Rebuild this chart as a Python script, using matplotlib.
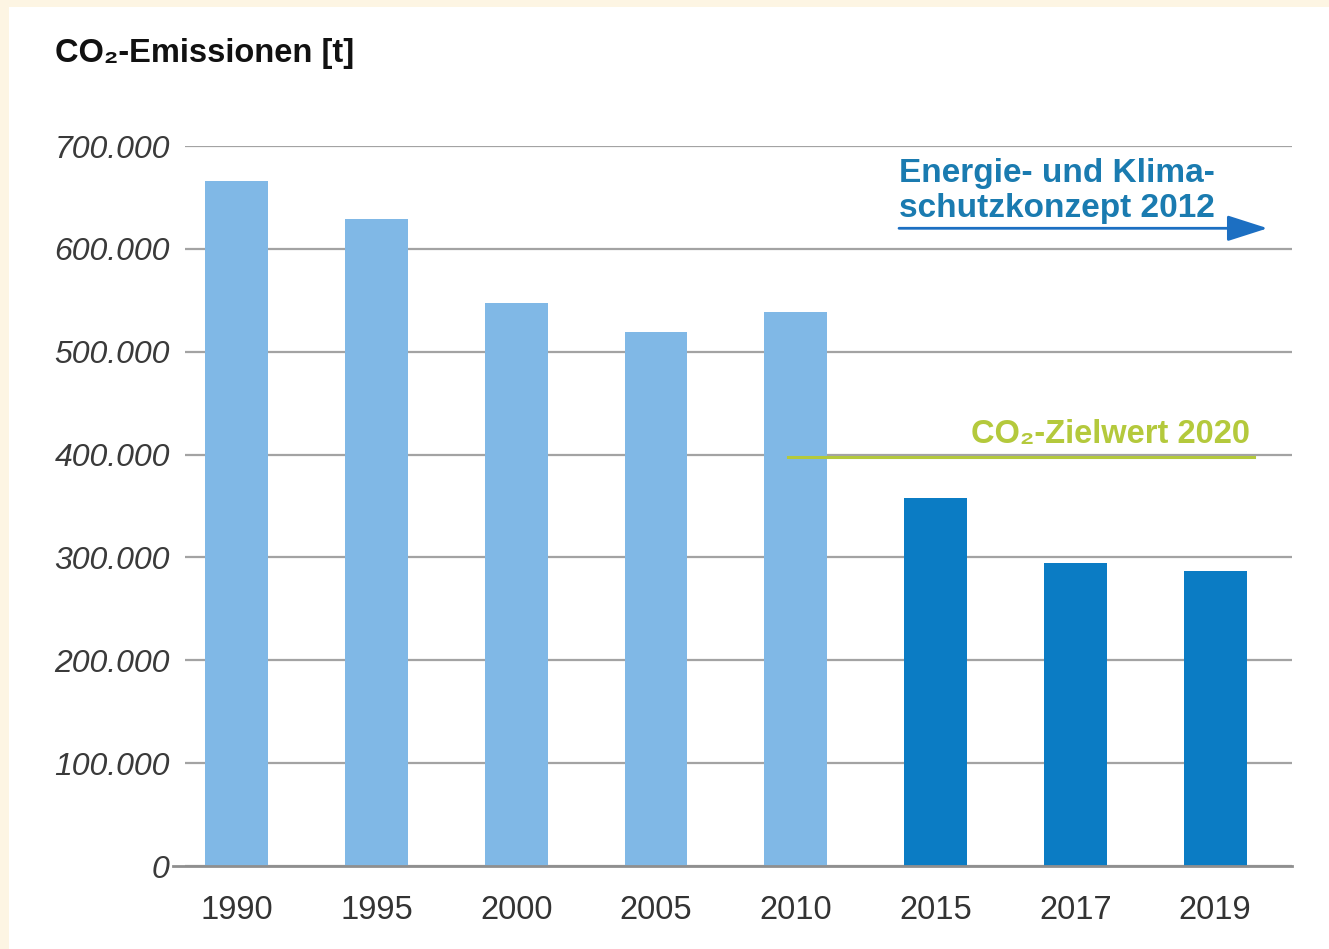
"""CO2 emissions bar chart with target line and concept arrow."""

import matplotlib
matplotlib.use("Agg")
import matplotlib.pyplot as plt
from matplotlib.patches import Rectangle
from matplotlib.ticker import FuncFormatter

W, H, DPI = 1329, 949, 100

years = ["1990", "1995", "2000", "2005", "2010", "2015", "2017", "2019"]
emissions = [666000, 629000, 547000, 519000, 539000, 358000, 295000, 287000]
is_recent = [False, False, False, False, False, True, True, True]

yticks = [0, 100000, 200000, 300000, 400000, 500000, 600000, 700000]
target_2020 = 398000
concept_level = 620000

LIGHT = "#80b8e6"
DARK = "#0b7cc4"
GRID = "#a3a3a3"
BLUE_TXT = "#1a7bb0"
ARROW = "#1c6fc2"
GREEN = "#b4c93c"
FONT = ["Liberation Sans", "DejaVu Sans"]

plt.rcParams["font.family"] = FONT

fig = plt.figure(figsize=(W / DPI, H / DPI), dpi=DPI, facecolor="#fdf5e3")
# white panel inside the cream frame (frame only on top and left)
fig.patches.append(Rectangle((9 / W, 0), 1 - 9 / W, 1 - 7 / H,
                             transform=fig.transFigure, facecolor="white",
                             edgecolor="none", zorder=-10))

ax = fig.add_axes([185 / W, (H - 866) / H, (1292 - 185) / W, 720 / H])
ax.set_facecolor("none")

x = range(len(years))
colors = [DARK if r else LIGHT for r in is_recent]
ax.bar(x, emissions, width=0.45, color=colors, zorder=3)

ax.set_xlim(-0.37, 7.55)
ax.set_ylim(0, 700000)
ax.set_yticks(yticks)
ax.yaxis.set_major_formatter(FuncFormatter(lambda v, _: f"{int(v):,}".replace(",", ".")))
ax.set_xticks(list(x))
ax.set_xticklabels(years)

for s in ax.spines.values():
    s.set_visible(False)
ax.tick_params(axis="both", length=0)
ax.tick_params(axis="y", pad=11, labelsize=23, labelcolor="#3a3a3a")
ax.tick_params(axis="x", pad=21, labelsize=23.5, labelcolor="#333333")
for lbl in ax.get_yticklabels():
    lbl.set_fontstyle("italic")

ax.grid(axis="y", color=GRID, linewidth=1.6, zorder=1)
ax.axhline(0, xmin=-0.011, color="#8f8f8f", linewidth=2, clip_on=False, zorder=4)

yax = ax.get_yaxis_transform()

# target value 2020
ax.axhline(target_2020, xmin=0.545, xmax=0.966, color=GREEN, linewidth=2.2, zorder=4)
ax.text(0.962, 411000, "CO\u2082-Zielwert 2020", transform=yax,
        ha="right", va="baseline", fontsize=23.5, color=GREEN, fontweight="bold")

# concept arrow
ax.annotate("", xy=(0.978, concept_level), xytext=(0.645, concept_level),
            xycoords=yax,
            arrowprops=dict(arrowstyle="-|>,head_length=2.5,head_width=0.8",
                            color=ARROW, linewidth=2, shrinkA=0, shrinkB=0))
ax.text(0.645, 665000, "Energie- und Klima-", transform=yax,
        ha="left", va="baseline", fontsize=24, color=BLUE_TXT, fontweight="bold")
ax.text(0.645, 631000, "schutzkonzept 2012", transform=yax,
        ha="left", va="baseline", fontsize=24, color=BLUE_TXT, fontweight="bold")

fig.text(55 / W, 1 - 62 / H, "CO\u2082-Emissionen [t]", ha="left", va="baseline",
         fontsize=23.5, fontweight="bold", color="#111111")

fig.savefig("out.png", dpi=DPI, facecolor=fig.get_facecolor())
